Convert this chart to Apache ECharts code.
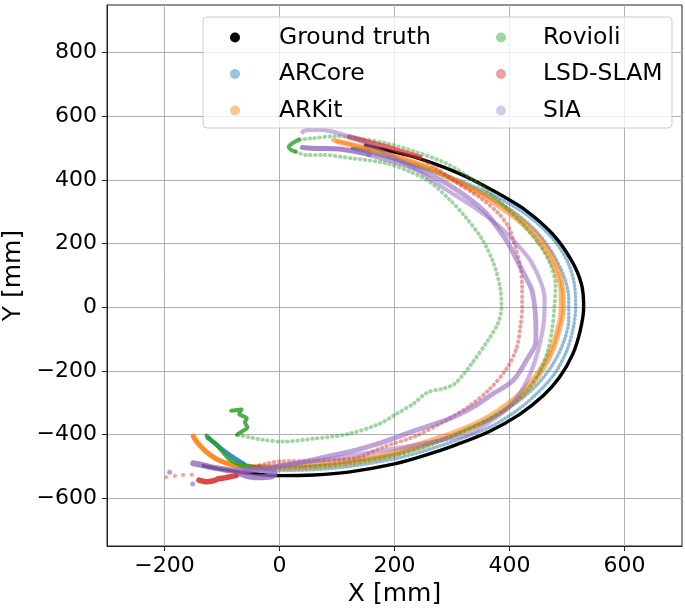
<!DOCTYPE html>
<html>
<head>
<meta charset="utf-8">
<script src="https://cdn.jsdelivr.net/npm/echarts@6/dist/echarts.min.js"></script>
<style>html,body{margin:0;padding:0;background:#fff}#c{width:685px;height:610px}</style>
</head>
<body>
<div id="c"></div>
<script>
// ---- data (mm) ----
const xTicks = [-200, 0, 200, 400, 600];
const yTicks = [-600, -400, -200, 0, 200, 400, 600, 800];

const groundTruth = [[-135,-497],[-100,-509],[-60,-520],[-30,-526],[0,-529],[60,-527],[120,-518],[200,-492],[250,-467],[307,-432],[365,-390],[417,-337],[458,-279],[487,-220],[510,-147],[523,-73],[529,0],[525,74],[507,150],[474,232],[428,305],[370,368],[312,421],[242,468],[190,492],[147,510]];

const arcoreStart = [[-125,-410],[-112,-428],[-100,-446],[-88,-462],[-75,-478],[-62,-492]];
const arcoreOut = [[-62,-492],[-40,-503],[0,-513],[60,-510],[120,-500],[200,-476],[250,-452],[307,-418],[365,-377],[410,-328],[447,-272],[477,-212],[498,-143],[510,-72],[515,0],[513,70],[502,140],[480,205],[448,265],[405,320],[350,370],[290,415],[230,450],[180,475],[150,488],[128,499]];
const arcoreTop = [[127,499],[140,496],[157,492]];
const arcoreBack = [[157,492],[200,465],[260,430],[320,388],[370,342],[415,290],[450,232],[475,170],[494,100],[503,30],[503,-40],[494,-110],[475,-180],[447,-245],[410,-302],[365,-352],[307,-397],[250,-433],[200,-460],[120,-485],[60,-497],[0,-502],[-40,-500]];

const arkitStart = [[-150,-405],[-145,-420],[-138,-435],[-125,-458],[-108,-478],[-88,-492],[-65,-499]];
const arkitOut = [[-65,-499],[-30,-504],[0,-506],[60,-502],[120,-491],[180,-472],[240,-443],[300,-405],[350,-366],[390,-325],[425,-273],[453,-210],[475,-137],[488,-64],[494,0],[493,53],[483,126],[460,200],[425,268],[370,340],[312,395],[245,450],[157,498],[93,526]];
const arkitBack = [[100,520],[160,493],[245,446],[312,390],[365,336],[420,265],[455,195],[478,122],[489,50],[489,-10],[483,-70],[470,-140],[447,-210],[418,-270],[383,-320],[343,-362],[296,-397],[235,-433],[180,-462],[120,-480],[60,-492],[0,-498],[-50,-500]];

const rovioliStart = [[-127,-403],[-118,-418],[-108,-435],[-97,-458],[-87,-478],[-73,-492],[-60,-498],[-34,-503]];
const rovioliOut = [[-34,-503],[0,-505],[60,-500],[120,-490],[200,-466],[260,-433],[310,-398],[360,-355],[400,-310],[430,-262],[452,-205],[466,-140],[474,-70],[478,0],[480,70],[470,140],[451,200],[422,263],[387,326],[341,395],[289,453],[236,489],[184,516],[140,530],[98,538],[57,531],[34,527]];
const rovioliHook = [[34,527],[22,515],[16,504],[20,495],[28,489]];
const rovioliBack = [[28,489],[45,479],[75,479],[127,468],[185,453],[226,427],[261,395],[296,338],[323,285],[352,215],[372,140],[384,60],[386,0],[380,-50],[362,-105],[335,-175],[305,-240],[285,-255],[258,-267],[232,-304],[203,-335],[174,-366],[120,-398],[63,-412],[5,-422],[-30,-416],[-53,-408],[-74,-400]];
const rovioliEnd = [[-74,-400],[-66,-391],[-56,-377],[-60,-361],[-57,-349],[-70,-335],[-66,-321],[-84,-325]];

const lsdStray = [[-197,-534],[-183,-530],[-170,-527],[-158,-526],[-148,-526]];
const lsdStart = [[-140,-543],[-128,-548],[-115,-545],[-105,-538],[-95,-536],[-85,-532],[-75,-528]];
const lsdOut = [[-75,-528],[-50,-505],[-20,-490],[0,-484],[60,-482],[105,-478],[138,-471],[179,-440],[236,-405],[290,-355],[330,-310],[365,-258],[394,-195],[412,-130],[419,-60],[422,0],[422,60],[419,126],[410,190],[399,250],[381,295],[352,340],[306,395],[270,440],[244,470]];
const lsdTop = [[244,472],[215,488],[185,505],[150,522],[121,536]];

const siaStray = [[-191,-518],[-151,-555]];
const siaStart = [[-150,-490],[-135,-495],[-120,-502],[-100,-508],[-85,-512],[-60,-512],[-40,-510],[-20,-514],[-8,-522],[-15,-532],[-40,-534],[-60,-528],[-70,-520]];
const siaOut = [[-60,-510],[-20,-505],[5,-495],[63,-483],[121,-467],[179,-450],[236,-433],[294,-413],[329,-398],[365,-360],[398,-315],[420,-265],[438,-200],[452,-120],[460,-40],[461,30],[452,90],[435,150],[412,200],[385,250],[342,310],[290,370],[240,430],[190,480],[150,515],[110,543],[70,558],[45,556],[38,548]];
const siaTop = [[40,502],[55,500],[70,499],[98,498],[130,490],[156,480]];
const siaBack = [[156,480],[200,457],[244,431],[290,390],[331,340],[360,295],[381,245],[398,200],[410,158],[428,95],[439,53],[445,-21],[446,-105],[429,-168],[406,-230],[371,-272],[336,-314],[294,-351],[236,-387],[179,-424],[130,-450],[80,-470],[30,-490],[-20,-505]];

// ---- styles ----
const COL = {
  'Ground truth': [0,0,0],
  'ARCore': [31,119,180],
  'ARKit': [255,127,14],
  'Rovioli': [44,160,44],
  'LSD-SLAM': [214,39,40],
  'SIA': [148,103,189]
};
const rgba = (n, a) => 'rgba(' + COL[n].join(',') + ',' + a + ')';
const FONT = 'DejaVu Sans';

function dotted(name, data, width, gap, alpha) {
  return {
    type: 'line', name, data, smooth: 0.3, showSymbol: false, silent: true,
    itemStyle: { color: rgba(name, 0.45) },
    lineStyle: { color: rgba(name, alpha), width, type: [0.5, gap], cap: 'round', join: 'round' }
  };
}
function solid(name, data, width, alpha) {
  return {
    type: 'line', name, data, smooth: 0.3, showSymbol: false, silent: true,
    itemStyle: { color: rgba(name, 0.45) },
    lineStyle: { color: rgba(name, alpha), width, cap: 'round', join: 'round' }
  };
}
function dots(name, data, size, alpha) {
  return { type: 'scatter', name, data, symbolSize: size, silent: true,
    itemStyle: { color: rgba(name, alpha) } };
}

const series = [
  { type: 'line', name: 'Ground truth', data: groundTruth, smooth: 0.3, showSymbol: false, silent: true,
    itemStyle: { color: '#000' }, lineStyle: { color: '#000', width: 3.4 } },
  solid('ARCore', arcoreStart, 4.5, 0.85),
  dotted('ARCore', arcoreOut, 3.6, 3.2, 0.5),
  solid('ARCore', arcoreTop, 4, 0.85),
  dotted('ARCore', arcoreBack, 3.6, 3.2, 0.5),
  solid('ARKit', arkitStart, 5, 0.9),
  dotted('ARKit', arkitOut, 4.5, 1.6, 0.6),
  dotted('ARKit', arkitBack, 4.5, 1.8, 0.55),
  solid('Rovioli', rovioliStart, 4, 0.85),
  dotted('Rovioli', rovioliOut, 4, 4.5, 0.45),
  solid('Rovioli', rovioliHook, 4, 0.8),
  dotted('Rovioli', rovioliBack, 4, 4.5, 0.45),
  solid('Rovioli', rovioliEnd, 4, 0.85),
  dotted('LSD-SLAM', lsdStray, 4, 8, 0.4),
  solid('LSD-SLAM', lsdStart, 5.5, 0.85),
  dotted('LSD-SLAM', lsdOut, 4, 4.5, 0.45),
  solid('LSD-SLAM', lsdTop, 5, 0.7),
  dots('SIA', siaStray, 5, 0.8),
  solid('SIA', siaStart, 6, 0.8),
  dotted('SIA', siaOut, 4.5, 2.5, 0.5),
  solid('SIA', siaTop, 5, 0.8),
  dotted('SIA', siaBack, 5, 1.8, 0.6)
];

const fmt = v => (v < 0 ? '\u2212' + (-v) : String(v));
const legendBase = {
  orient: 'vertical', top: 25.5, padding: 0, itemWidth: 10, itemHeight: 10, itemGap: 12.5,
  icon: 'circle', selectedMode: false, z: 10,
  textStyle: { fontFamily: FONT, fontSize: 23.5, color: '#000', lineHeight: 24 }
};
const legItem = (n, a) => ({ name: n, itemStyle: { color: n === 'Ground truth' ? '#000' : rgba(n, a) } });

const option = {
  animation: false,
  backgroundColor: '#fff',
  grid: { left: 107, right: 3, top: 5, bottom: 64, containLabel: false, outerBoundsMode: 'none',
    show: true, borderColor: '#222', borderWidth: 1, backgroundColor: 'transparent' },
  xAxis: {
    type: 'value', min: -300, max: 700,
    name: 'X [mm]', nameLocation: 'middle', nameGap: 34,
    nameTextStyle: { fontFamily: FONT, fontSize: 25, color: '#000' },
    axisLine: { show: true, onZero: false, lineStyle: { color: '#222', width: 1 } },
    axisTick: { show: true, length: 5, customValues: xTicks, lineStyle: { color: '#222' } },
    axisLabel: { customValues: xTicks, formatter: fmt, fontFamily: FONT, fontSize: 22, color: '#000', margin: 9 },
    splitLine: { show: true, lineStyle: { color: '#b0b0b0', width: 1 } }
  },
  yAxis: {
    type: 'value', min: -750, max: 950,
    name: 'Y [mm]', nameLocation: 'middle', nameGap: 72,
    nameTextStyle: { fontFamily: FONT, fontSize: 25, color: '#000' },
    axisLine: { show: true, onZero: false, lineStyle: { color: '#222', width: 1 } },
    axisTick: { show: true, length: 5, customValues: yTicks, lineStyle: { color: '#222' } },
    axisLabel: { customValues: yTicks, formatter: fmt, fontFamily: FONT, fontSize: 22, color: '#000', margin: 10 },
    splitLine: { show: true, lineStyle: { color: '#b0b0b0', width: 1 } }
  },
  legend: [
    Object.assign({}, legendBase, { left: 230, data: [legItem('Ground truth'), legItem('ARCore', 0.45), legItem('ARKit', 0.45)],
      textStyle: Object.assign({}, legendBase.textStyle, { padding: [0, 0, 0, 34] }) }),
    Object.assign({}, legendBase, { left: 496, data: [legItem('Rovioli', 0.45), legItem('LSD-SLAM', 0.45), legItem('SIA', 0.45)],
      textStyle: Object.assign({}, legendBase.textStyle, { padding: [0, 0, 0, 32] }) })
  ],
  graphic: [{
    type: 'rect', z: 8, silent: true,
    shape: { x: 203, y: 17, width: 469, height: 111, r: 4 },
    style: { fill: 'rgba(255,255,255,0.8)', stroke: '#cccccc', lineWidth: 1 }
  }],
  series
};
const chart = echarts.init(document.getElementById('c'), null, { renderer: 'canvas' });
chart.setOption(option);
</script>
</body>
</html>
